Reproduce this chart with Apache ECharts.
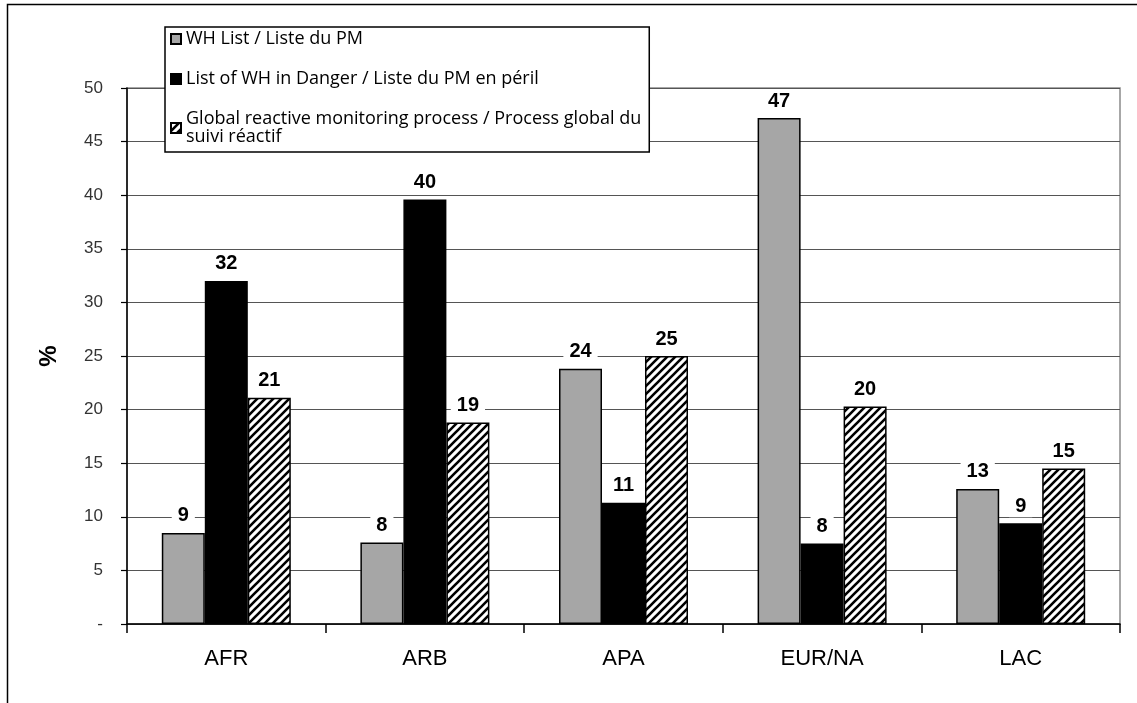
<!DOCTYPE html>
<html>
<head>
<meta charset="utf-8">
<script src="https://cdn.jsdelivr.net/npm/echarts@6/dist/echarts.min.js"></script>
<style>
html,body{margin:0;padding:0;background:#fff;}
#chart{width:1137px;height:703px;}
</style>
</head>
<body>
<div id="chart"></div>
<script>
const categories = ['AFR', 'ARB', 'APA', 'EUR/NA', 'LAC'];
const seriesNames = [
  'WH List / Liste du PM',
  'List of WH in Danger / Liste du PM en péril',
  'Global reactive monitoring process / Process global du\nsuivi réactif'
];
const whList = [8.5, 7.6, 23.8, 47.2, 12.6];
const inDanger = [32.0, 39.6, 11.3, 7.5, 9.4];
const reactive = [21.1, 18.8, 25.0, 20.3, 14.5];
const yTicks = { min: 0, max: 50, interval: 5 };

function makeHatch() {
  const s = 8;
  const c = document.createElement('canvas');
  c.width = s; c.height = s;
  const ctx = c.getContext('2d');
  ctx.fillStyle = '#fff';
  ctx.fillRect(0, 0, s, s);
  ctx.strokeStyle = '#000';
  ctx.lineWidth = 2.6;
  ctx.beginPath();
  ctx.moveTo(-1, s + 1); ctx.lineTo(s + 1, -1);
  ctx.moveTo(-2, 2); ctx.lineTo(2, -2);
  ctx.moveTo(s - 2, s + 2); ctx.lineTo(s + 2, s - 2);
  ctx.stroke();
  return c;
}
const hatch = { image: makeHatch(), repeat: 'repeat' };

const labelStyle = {
  show: true,
  position: 'top',
  distance: 6,
  formatter: p => Math.round(p.value),
  fontFamily: 'Liberation Sans, Arial, sans-serif',
  fontWeight: 'bold',
  fontSize: 20,
  color: '#000',
  backgroundColor: '#fff',
  padding: [1, 6]
};

const chart = echarts.init(document.getElementById('chart'), null, { renderer: 'canvas' });
chart.setOption({
  animation: false,
  backgroundColor: '#fff',
  graphic: [{
    type: 'rect',
    shape: { x: 7.5, y: 4.5, width: 1300, height: 900 },
    style: { fill: null, stroke: '#000', lineWidth: 1.5 },
    z: -10
  }],
  grid: {
    left: 127, right: 17, top: 88, bottom: 79,
    show: true, borderColor: '#8a8a8a', borderWidth: 1.5, backgroundColor: 'transparent'
  },
  legend: {
    orient: 'vertical',
    left: 165, top: 27,
    padding: [3, 8, 6, 5],
    itemGap: 22,
    itemWidth: 10, itemHeight: 10,
    backgroundColor: '#fff',
    borderColor: '#000',
    borderWidth: 1.5,
    borderRadius: 0,
    z: 20,
    textStyle: {
      fontFamily: 'Open Sans, Noto Sans, sans-serif',
      fontSize: 18,
      color: '#000',
      lineHeight: 18
    },
    data: seriesNames.map(n => ({ name: n, icon: 'rect' }))
  },
  xAxis: {
    type: 'category',
    data: categories,
    axisLine: { lineStyle: { color: '#000', width: 1.5 } },
    axisTick: { show: true, alignWithLabel: false, length: 9, lineStyle: { color: '#000', width: 1.5 } },
    axisLabel: {
      fontFamily: 'Liberation Sans, Arial, sans-serif',
      fontSize: 22, color: '#000', margin: 24
    }
  },
  yAxis: {
    type: 'value',
    min: yTicks.min, max: yTicks.max, interval: yTicks.interval,
    name: '%',
    nameLocation: 'middle',
    nameGap: 66,
    nameRotate: 90,
    nameTextStyle: {
      fontFamily: 'Liberation Sans, Arial, sans-serif',
      fontSize: 24, fontWeight: 'bold', color: '#000'
    },
    axisLine: { show: true, lineStyle: { color: '#000', width: 1.5 } },
    axisTick: { show: true, length: 6, lineStyle: { color: '#000', width: 1.2 } },
    axisLabel: {
      formatter: v => v === 0 ? '-' : String(v),
      fontFamily: 'Liberation Sans, Arial, sans-serif',
      fontSize: 17, color: '#333', margin: 24
    },
    splitLine: { lineStyle: { color: '#555', width: 1.2 } }
  },
  series: [
    {
      name: seriesNames[0], type: 'bar', data: whList,
      barWidth: 43, barGap: '0%',
      itemStyle: { color: '#a6a6a6', borderColor: '#000', borderWidth: 1.5 },
      label: labelStyle
    },
    {
      name: seriesNames[1], type: 'bar', data: inDanger,
      barWidth: 43, barGap: '0%',
      itemStyle: { color: '#000', borderColor: '#000', borderWidth: 1.5 },
      label: labelStyle
    },
    {
      name: seriesNames[2], type: 'bar', data: reactive,
      barWidth: 43, barGap: '0%',
      itemStyle: { color: hatch, borderColor: '#000', borderWidth: 1.5 },
      label: labelStyle
    }
  ]
});
</script>
</body>
</html>
